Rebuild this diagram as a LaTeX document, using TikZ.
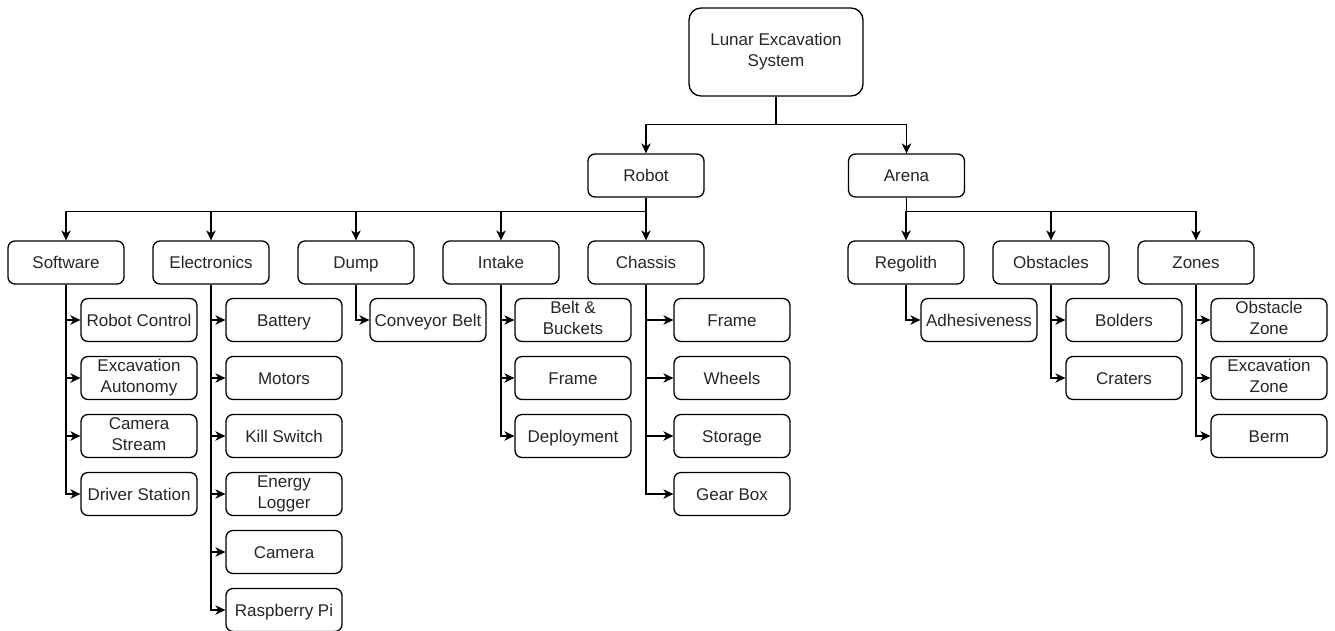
\documentclass[tikz,border=0pt]{standalone}
\usepackage{fontspec}
\setmainfont{Liberation Sans}
\usetikzlibrary{arrows.meta}
\newcommand\boxstrut{\rule[-4pt]{0pt}{20.2pt}}
\begin{document}
\begin{tikzpicture}[x=1pt,y=-1pt,
  box/.style={draw, line width=1.3pt, rounded corners=7pt, minimum width=116pt, minimum height=43pt, align=center, font=\fontsize{17}{20.5}\selectfont, inner sep=1pt, text=black!85, execute at begin node=\boxstrut, execute at end node=\boxstrut},
  conn/.style={line width=1.3pt, -{Stealth[length=10pt,width=9.5pt,inset=3pt]}}]
\useasboundingbox (0,0) rectangle (1335,630);
% root
\node[box, minimum width=174pt, minimum height=88pt, rounded corners=12pt] (top) at (776,52) {Lunar Excavation\\System};
\node[box] (robot) at (646,175.5) {Robot};
\node[box] (arena) at (906.5,175.5) {Arena};
% level 2
\node[box] (software) at (66,262.5) {Software};
\node[box] (electronics) at (211,262.5) {Electronics};
\node[box] (dump) at (356,262.5) {Dump};
\node[box] (intake) at (501,262.5) {Intake};
\node[box] (chassis) at (646,262.5) {Chassis};
\node[box] (regolith) at (906,262.5) {Regolith};
\node[box] (obstacles) at (1051,262.5) {Obstacles};
\node[box] (zones) at (1196,262.5) {Zones};
% software children
\node[box] (rc) at (139,320) {Robot Control};
\node[box] (ea) at (139,378) {Excavation\\Autonomy};
\node[box] (cs) at (139,436) {Camera\\Stream};
\node[box] (ds) at (139,494) {Driver Station};
% electronics children
\node[box] (bat) at (284,320) {Battery};
\node[box] (mot) at (284,378) {Motors};
\node[box] (ks) at (284,436) {Kill Switch};
\node[box] (el) at (284,494) {Energy\\Logger};
\node[box] (cam) at (284,552) {Camera};
\node[box] (rpi) at (284,610) {Raspberry Pi};
% dump
\node[box] (cb) at (428,320) {Conveyor Belt};
% intake
\node[box] (bb) at (573,320) {Belt \&\\Buckets};
\node[box] (iframe) at (573,378) {Frame};
\node[box] (dep) at (573,436) {Deployment};
% chassis
\node[box] (cframe) at (732,320) {Frame};
\node[box] (wheels) at (732,378) {Wheels};
\node[box] (storage) at (732,436) {Storage};
\node[box] (gear) at (732,494) {Gear Box};
% regolith
\node[box] (adh) at (979,320) {Adhesiveness};
% obstacles
\node[box] (bold) at (1124,320) {Bolders};
\node[box] (crat) at (1124,378) {Craters};
% zones
\node[box] (oz) at (1269,320) {Obstacle\\Zone};
\node[box] (ez) at (1269,378) {Excavation\\Zone};
\node[box] (berm) at (1269,436) {Berm};
% connectors top
\draw[conn] (top.south) -- ++(0,28) -| (robot.north);
\draw[conn] (top.south) -- ++(0,28) -| (arena.north);
\foreach \c in {software,electronics,dump,intake,chassis}
  \draw[conn] (robot.south) -- ++(0,14) -| (\c.north);
\foreach \c in {regolith,obstacles,zones}
  \draw[conn] (arena.south) -- ++(0,14) -| (\c.north);
\foreach \c in {rc,ea,cs,ds} \draw[conn] (software.south) |- (\c.west);
\foreach \c in {bat,mot,ks,el,cam,rpi} \draw[conn] (electronics.south) |- (\c.west);
\draw[conn] (dump.south) |- (cb.west);
\foreach \c in {bb,iframe,dep} \draw[conn] (intake.south) |- (\c.west);
\foreach \c in {cframe,wheels,storage,gear} \draw[conn] (chassis.south) |- (\c.west);
\draw[conn] (regolith.south) |- (adh.west);
\foreach \c in {bold,crat} \draw[conn] (obstacles.south) |- (\c.west);
\foreach \c in {oz,ez,berm} \draw[conn] (zones.south) |- (\c.west);
\end{tikzpicture}
\end{document}
